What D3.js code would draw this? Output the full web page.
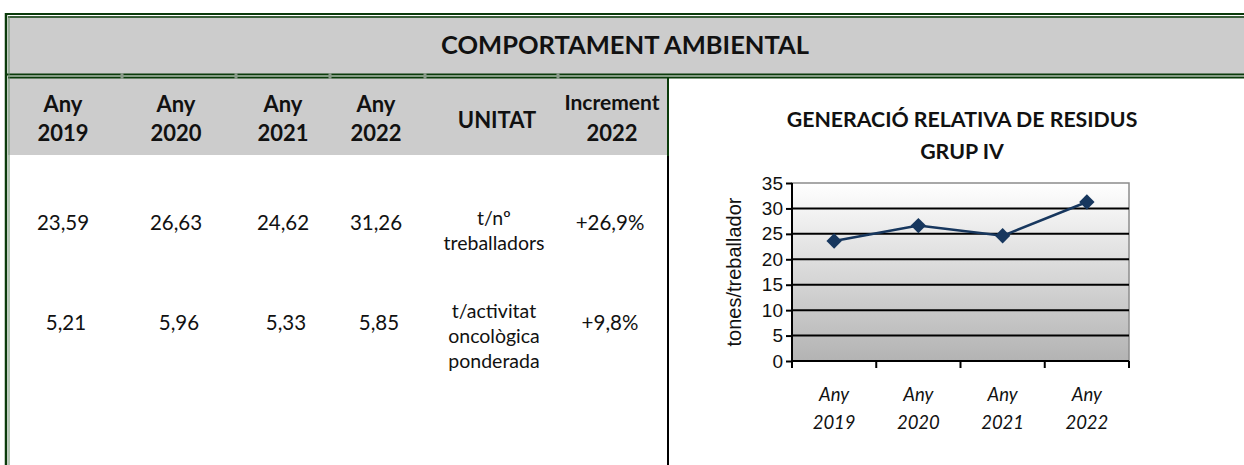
<!DOCTYPE html>
<meta charset="utf-8">
<title>Comportament ambiental</title>
<style>
body { margin: 0; background: #fff; }
text { font-family: Lato, "Open Sans", sans-serif; fill: #111; }
.chart text { font-family: "Liberation Sans", Arial, sans-serif; }
</style>
<script src="https://d3js.org/d3.v7.min.js"></script>
<body>
<script>
// table data
var years = ["2019", "2020", "2021", "2022"];
var perWorker = [23.59, 26.63, 24.62, 31.26];
var perActivity = [5.21, 5.96, 5.33, 5.85];
var units = [["t/nº", "treballadors"], ["t/activitat", "oncològica", "ponderada"]];
var increments = ["+26,9%", "+9,8%"];
var yTicks = [0, 5, 10, 15, 20, 25, 30, 35];

var width = 1244, height = 465;
var green = "#0b3b0b";
var fmt = d3.formatLocale({decimal: ",", thousands: ".", grouping: [3], currency: ["", "€"]}).format(".2f");

var svg = d3.select("body").append("svg")
    .attr("width", width)
    .attr("height", height);

// header bands
svg.append("rect").attr("x", 8).attr("y", 16).attr("width", width - 8).attr("height", 59).attr("fill", "#cccccc");
svg.append("rect").attr("x", 8).attr("y", 78).attr("width", 660).attr("height", 77).attr("fill", "#cccccc");

// double borders
function hline(y, x0, x1, c, w) {
  svg.append("line").attr("x1", x0).attr("x2", x1).attr("y1", y).attr("y2", y)
    .attr("stroke", c).attr("stroke-width", w);
}
function vline(x, y0, y1, c, w) {
  svg.append("line").attr("x1", x).attr("x2", x).attr("y1", y0).attr("y2", y1)
    .attr("stroke", c).attr("stroke-width", w);
}
hline(14, 5, width, green, 2);
hline(17, 8, width, green, 1.5);
hline(74.5, 5, width, green, 2);
hline(77.5, 8, width, green, 2);
vline(6, 13, height, green, 2.5);
vline(9, 16, height, "#6b8f6b", 1);
vline(668, 77, 156, green, 2);
vline(668, 156, height, "#000", 2);

// little gray joints at column edges
[122, 236, 330, 425, 558].forEach(function(x) {
  svg.append("rect").attr("x", x - 1.5).attr("y", 73).attr("width", 3).attr("height", 6).attr("fill", "#8a9a8a");
});

// title
svg.append("text")
    .attr("x", 625).attr("y", 54)
    .attr("text-anchor", "middle")
    .attr("font-size", 25.5).attr("font-weight", "bold")
    .text("COMPORTAMENT AMBIENTAL");

// column headers
var colX = [63, 176, 283, 376];
years.forEach(function(y, i) {
  var t = svg.append("text").attr("text-anchor", "middle").attr("font-size", 22).attr("font-weight", "bold");
  t.append("tspan").attr("x", colX[i]).attr("y", 112).text("Any");
  t.append("tspan").attr("x", colX[i]).attr("y", 141).text(y);
});
svg.append("text").attr("x", 497).attr("y", 128).attr("text-anchor", "middle")
    .attr("font-size", 22).attr("font-weight", "bold").text("UNITAT");
var inc = svg.append("text").attr("text-anchor", "middle").attr("font-weight", "bold").attr("font-size", 21);
inc.append("tspan").attr("x", 612).attr("y", 110).text("Increment");
inc.append("tspan").attr("x", 612).attr("y", 141).attr("font-size", 22).text("2022");

// data rows
var rows = [perWorker, perActivity];
var rowY = [230, 330];
rows.forEach(function(vals, r) {
  vals.forEach(function(v, i) {
    svg.append("text").attr("x", colX[i] + (r ? 3 : 0)).attr("y", rowY[r])
      .attr("text-anchor", "middle").attr("font-size", 20.5).text(fmt(v));
  });
  svg.append("text").attr("x", 610).attr("y", rowY[r])
    .attr("text-anchor", "middle").attr("font-size", 20.5).text(increments[r]);
});
units.forEach(function(lines, r) {
  var t = svg.append("text").attr("text-anchor", "middle").attr("font-size", 19.5);
  var y0 = r ? 318 : 225;
  lines.forEach(function(l, k) {
    t.append("tspan").attr("x", 494).attr("y", y0 + k * 25).text(l);
  });
});

// chart title
var ct = svg.append("text").attr("text-anchor", "middle").attr("font-size", 21.3).attr("font-weight", "bold");
ct.append("tspan").attr("x", 962).attr("y", 127).text("GENERACIÓ RELATIVA DE RESIDUS");
ct.append("tspan").attr("x", 962).attr("y", 159).text("GRUP IV");

// line chart
var x = d3.scaleBand().domain(years).range([792, 1129]);
var y = d3.scaleLinear().domain([0, 35]).range([361, 183]);

var chart = svg.append("g").attr("class", "chart");
var grad = svg.append("defs").append("linearGradient")
    .attr("id", "bg").attr("x1", 0).attr("x2", 0).attr("y1", 0).attr("y2", 1);
grad.append("stop").attr("offset", "0%").attr("stop-color", "#ffffff");
grad.append("stop").attr("offset", "100%").attr("stop-color", "#b3b3b3");

chart.append("rect")
    .attr("x", 792).attr("y", y(35)).attr("width", 1129 - 792).attr("height", y(0) - y(35))
    .attr("fill", "url(#bg)").attr("stroke", "#8c8c8c").attr("stroke-width", 1.5);

chart.selectAll(".grid").data(yTicks.slice(1, -1)).enter().append("line")
    .attr("x1", 792).attr("x2", 1129)
    .attr("y1", function(d) { return y(d); }).attr("y2", function(d) { return y(d); })
    .attr("stroke", "#000").attr("stroke-width", 2);

var yAxis = chart.append("g").attr("transform", "translate(792,0)")
    .call(d3.axisLeft(y).tickValues(yTicks).tickSize(6).tickPadding(3));
yAxis.attr("font-family", null);
yAxis.select(".domain").attr("stroke-width", 2).attr("d", "M0," + y(35) + "V" + (y(0) + 7));
yAxis.selectAll(".tick line").attr("stroke-width", 2);
yAxis.selectAll(".tick text").attr("font-size", 19).style("fill", "#111");

var xAxis = chart.append("g").attr("transform", "translate(0," + y(0) + ")");
xAxis.append("line").attr("x1", 792).attr("x2", 1129).attr("stroke", "#000").attr("stroke-width", 2);
xAxis.selectAll(".xt").data(years.concat(["end"])).enter().append("line")
    .attr("x1", function(d, i) { return i < years.length ? x(d) : x.range()[1]; })
    .attr("x2", function(d, i) { return i < years.length ? x(d) : x.range()[1]; })
    .attr("y1", 0).attr("y2", 7).attr("stroke", "#000").attr("stroke-width", 2);
years.forEach(function(yr) {
  var t = xAxis.append("text").attr("text-anchor", "middle").attr("font-size", 18.5)
    .attr("font-style", "italic").style("font-family", "Lato, 'Open Sans', sans-serif");
  t.append("tspan").attr("x", x(yr) + x.bandwidth() / 2).attr("y", 40).text("Any");
  t.append("tspan").attr("x", x(yr) + x.bandwidth() / 2).attr("y", 68).text(yr);
});

chart.append("text")
    .attr("transform", "translate(741,272) rotate(-90)")
    .attr("text-anchor", "middle").attr("font-size", 20)
    .text("tones/treballador");

var line = d3.line()
    .x(function(d, i) { return x(years[i]) + x.bandwidth() / 2; })
    .y(function(d) { return y(d); });
chart.append("path").datum(perWorker)
    .attr("d", line).attr("fill", "none").attr("stroke", "#17375e").attr("stroke-width", 2.5);
chart.selectAll(".pt").data(perWorker).enter().append("path")
    .attr("transform", function(d, i) { return "translate(" + (x(years[i]) + x.bandwidth() / 2) + "," + y(d) + ")"; })
    .attr("d", d3.symbol().type(d3.symbolDiamond2).size(150))
    .attr("fill", "#17375e");
</script>
</body>
